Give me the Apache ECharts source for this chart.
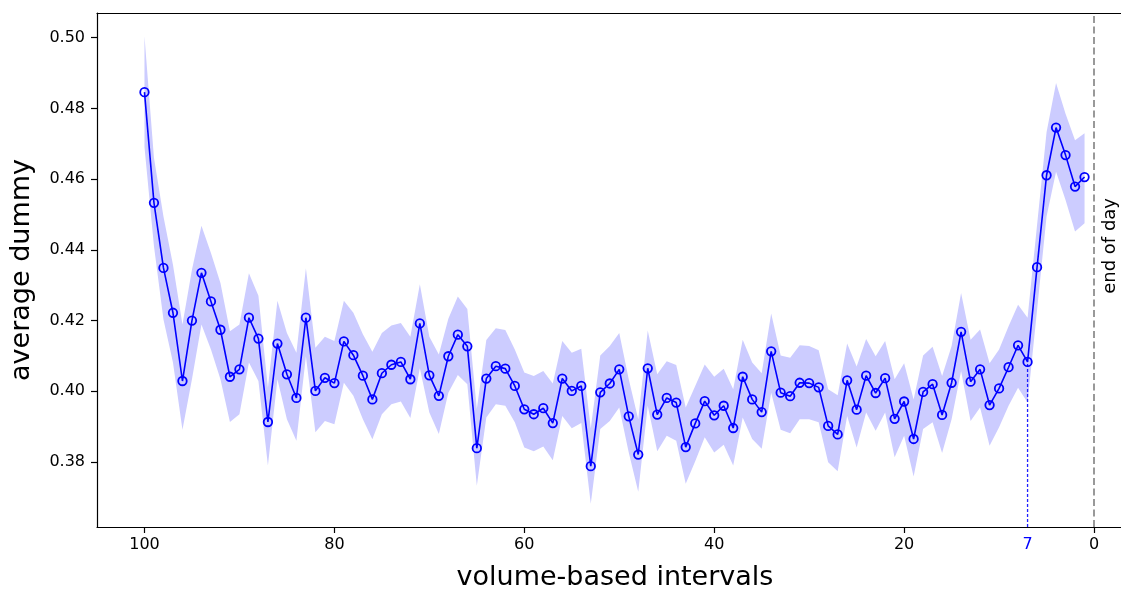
<!DOCTYPE html>
<html>
<head>
<meta charset="utf-8">
<script src="https://cdn.jsdelivr.net/npm/echarts@6/dist/echarts.min.js"></script>
<style>
  html, body { margin: 0; padding: 0; background: #fff; }
  #chart { width: 1121px; height: 590px; }
</style>
</head>
<body>
<div id="chart"></div>
<script>
// x positions: volume-based intervals (100 -> 1)
const intervals = [100,99,98,97,96,95,94,93,92,91,90,89,88,87,86,85,84,83,82,81,
  80,79,78,77,76,75,74,73,72,71,70,69,68,67,66,65,64,63,62,61,
  60,59,58,57,56,55,54,53,52,51,50,49,48,47,46,45,44,43,42,41,
  40,39,38,37,36,35,34,33,32,31,30,29,28,27,26,25,24,23,22,21,
  20,19,18,17,16,15,14,13,12,11,10,9,8,7,6,5,4,3,2,1];

const avgDummy = [0.4846,0.4533,0.4349,0.4222,0.4029,0.4200,0.4335,0.4254,0.4174,0.4041,
  0.4062,0.4208,0.4149,0.3913,0.4135,0.4048,0.3981,0.4208,0.4001,0.4038,
  0.4023,0.4141,0.4102,0.4044,0.3977,0.4051,0.4075,0.4083,0.4034,0.4192,
  0.4045,0.3987,0.4099,0.4160,0.4127,0.3839,0.4036,0.4071,0.4064,0.4015,
  0.3949,0.3935,0.3952,0.3910,0.4036,0.4001,0.4015,0.3788,0.3997,0.4022,
  0.4062,0.3929,0.3821,0.4065,0.3934,0.3981,0.3968,0.3842,0.3909,0.3972,
  0.3932,0.3959,0.3896,0.4041,0.3977,0.3941,0.4113,0.3996,0.3986,0.4024,
  0.4023,0.4011,0.3902,0.3878,0.4031,0.3948,0.4044,0.3995,0.4037,0.3922,
  0.3971,0.3865,0.3998,0.4020,0.3933,0.4024,0.4168,0.4027,0.4062,0.3961,
  0.4008,0.4068,0.4130,0.4083,0.4351,0.4611,0.4746,0.4668,0.4579,0.4606];

const upperBand = [0.5004,0.4660,0.4494,0.4358,0.4189,0.4344,0.4468,0.4391,0.4306,0.4170,
  0.4189,0.4334,0.4270,0.4010,0.4256,0.4165,0.4109,0.4348,0.4123,0.4154,
  0.4142,0.4256,0.4222,0.4161,0.4112,0.4165,0.4186,0.4193,0.4154,0.4303,
  0.4154,0.4104,0.4205,0.4268,0.4233,0.3950,0.4145,0.4178,0.4173,0.4118,
  0.4053,0.4043,0.4057,0.4022,0.4142,0.4109,0.4120,0.3895,0.4101,0.4128,
  0.4165,0.4034,0.3921,0.4172,0.4048,0.4085,0.4074,0.3954,0.4015,0.4076,
  0.4041,0.4064,0.4006,0.4146,0.4081,0.4051,0.4220,0.4101,0.4095,0.4130,
  0.4128,0.4116,0.4006,0.3989,0.4135,0.4070,0.4148,0.4099,0.4142,0.4034,
  0.4079,0.3977,0.4101,0.4126,0.4043,0.4128,0.4278,0.4146,0.4175,0.4079,
  0.4118,0.4184,0.4245,0.4208,0.4470,0.4733,0.4872,0.4785,0.4710,0.4730];

const lowerBand = [0.4691,0.4410,0.4203,0.4081,0.3891,0.4034,0.4189,0.4118,0.4034,0.3913,
  0.3935,0.4081,0.4029,0.3790,0.4034,0.3921,0.3860,0.4099,0.3884,0.3916,
  0.3907,0.4024,0.3987,0.3921,0.3864,0.3935,0.3963,0.3971,0.3924,0.4065,
  0.3940,0.3879,0.3996,0.4046,0.4020,0.3733,0.3926,0.3963,0.3959,0.3912,
  0.3841,0.3830,0.3844,0.3805,0.3930,0.3895,0.3910,0.3682,0.3893,0.3916,
  0.3954,0.3827,0.3716,0.3959,0.3830,0.3874,0.3860,0.3738,0.3802,0.3870,
  0.3827,0.3849,0.3790,0.3926,0.3865,0.3837,0.3996,0.3891,0.3881,0.3921,
  0.3921,0.3912,0.3799,0.3774,0.3930,0.3841,0.3940,0.3888,0.3940,0.3813,
  0.3874,0.3759,0.3893,0.3912,0.3825,0.3921,0.4057,0.3916,0.3954,0.3846,
  0.3898,0.3959,0.4010,0.3968,0.4230,0.4494,0.4621,0.4541,0.4452,0.4475];

const xTicks = [100, 80, 60, 40, 20, 0];
const xLabels = [100, 80, 60, 40, 20, 7, 0];
const yTicks = [0.38, 0.40, 0.42, 0.44, 0.46, 0.48, 0.50];
const markedInterval = 7;
const endOfDay = 0;

const yMin = 0.3616, yMax = 0.5070;
const xMin = -2.84, xMax = 105;

const markedValue = avgDummy[intervals.indexOf(markedInterval)];
const FONT = 'DejaVu Sans';

const chart = echarts.init(document.getElementById('chart'), null, { renderer: 'canvas' });

const option = {
  animation: false,
  backgroundColor: '#fff',
  grid: { left: 97, top: 13, bottom: 63, right: 0, show: false, containLabel: false, outerBoundsMode: 'none' },
  xAxis: [
    {
      type: 'value', inverse: true, min: xMin, max: xMax,
      name: 'volume-based intervals', nameLocation: 'middle', nameGap: 37,
      nameTextStyle: { fontFamily: FONT, fontSize: 27, color: '#000', padding: [0, 0, 0, 12] },
      axisLine: { show: true, onZero: false, lineStyle: { color: '#000', width: 1.2 } },
      axisTick: { show: true, length: 6, lineStyle: { color: '#000', width: 1.2 }, customValues: xTicks },
      axisLabel: {
        customValues: xLabels, margin: 10, fontFamily: FONT, fontSize: 16, color: '#000',
        formatter: function (v) { return v === markedInterval ? '{b|' + v + '}' : String(v); },
        rich: { b: { color: '#0000ff', fontFamily: FONT, fontSize: 16 } }
      },
      splitLine: { show: false }
    },
    {
      type: 'value', inverse: true, min: xMin, max: xMax, position: 'top',
      axisLine: { show: true, onZero: false, lineStyle: { color: '#000', width: 1.2 } },
      axisTick: { show: false }, axisLabel: { show: false }, splitLine: { show: false }
    }
  ],
  yAxis: {
    type: 'value', min: yMin, max: yMax,
    name: 'average dummy', nameLocation: 'middle', nameGap: 62, nameRotate: 90,
    nameTextStyle: { fontFamily: FONT, fontSize: 27, color: '#000' },
    axisLine: { show: true, onZero: false, lineStyle: { color: '#000', width: 1.2 } },
    axisTick: { show: true, length: 6, lineStyle: { color: '#000', width: 1.2 }, customValues: yTicks },
    axisLabel: {
      customValues: yTicks, margin: 12, fontFamily: FONT, fontSize: 16, color: '#000',
      formatter: function (v) { return v.toFixed(2); }
    },
    splitLine: { show: false }
  },
  series: [
    {
      type: 'custom',
      name: 'band',
      coordinateSystem: 'cartesian2d',
      xAxisIndex: 0,
      silent: true,
      z: 1,
      data: intervals.map(function (x, i) { return [x, lowerBand[i], upperBand[i]]; }),
      encode: { x: 0, y: [1, 2] },
      renderItem: function (params, api) {
        if (params.dataIndex !== 0) return null;
        const pts = [];
        for (let i = 0; i < intervals.length; i++) pts.push(api.coord([intervals[i], upperBand[i]]));
        for (let i = intervals.length - 1; i >= 0; i--) pts.push(api.coord([intervals[i], lowerBand[i]]));
        return { type: 'polygon', shape: { points: pts }, style: { fill: '#ccccff', stroke: null } };
      },
      markLine: {
        silent: true, symbol: 'none', animation: false,
        label: { show: false },
        lineStyle: { color: '#999999', width: 2, type: [7, 3.5], opacity: 1 },
        emphasis: { disabled: true },
        data: [
          [ { coord: [endOfDay, yMin] }, { coord: [endOfDay, yMax] } ]
        ]
      }
    },
    {
      type: 'line',
      name: 'marker',
      xAxisIndex: 0,
      z: 2,
      silent: true,
      data: [[markedInterval, yMin], [markedInterval, markedValue]],
      symbol: 'none',
      lineStyle: { color: '#1f1fff', width: 1.3, type: [3, 2] },
      itemStyle: { color: '#1f1fff' },
      emphasis: { disabled: true }
    },
    {
      type: 'line',
      name: 'average dummy',
      xAxisIndex: 0,
      z: 3,
      data: intervals.map(function (x, i) { return [x, avgDummy[i]]; }),
      lineStyle: { color: '#0000ff', width: 1.6 },
      symbol: 'circle', symbolSize: 8.5, showAllSymbol: true,
      itemStyle: { color: 'rgba(0,0,0,0)', borderColor: '#0000ff', borderWidth: 1.8 },
      emphasis: { disabled: true }
    }
  ],
  graphic: [
    {
      type: 'text', left: 1101, top: 198, rotation: Math.PI / 2,
      style: { text: 'end of day', font: '18px "DejaVu Sans"', fill: '#000' }
    }
  ]
};

chart.setOption(option);
</script>
</body>
</html>
